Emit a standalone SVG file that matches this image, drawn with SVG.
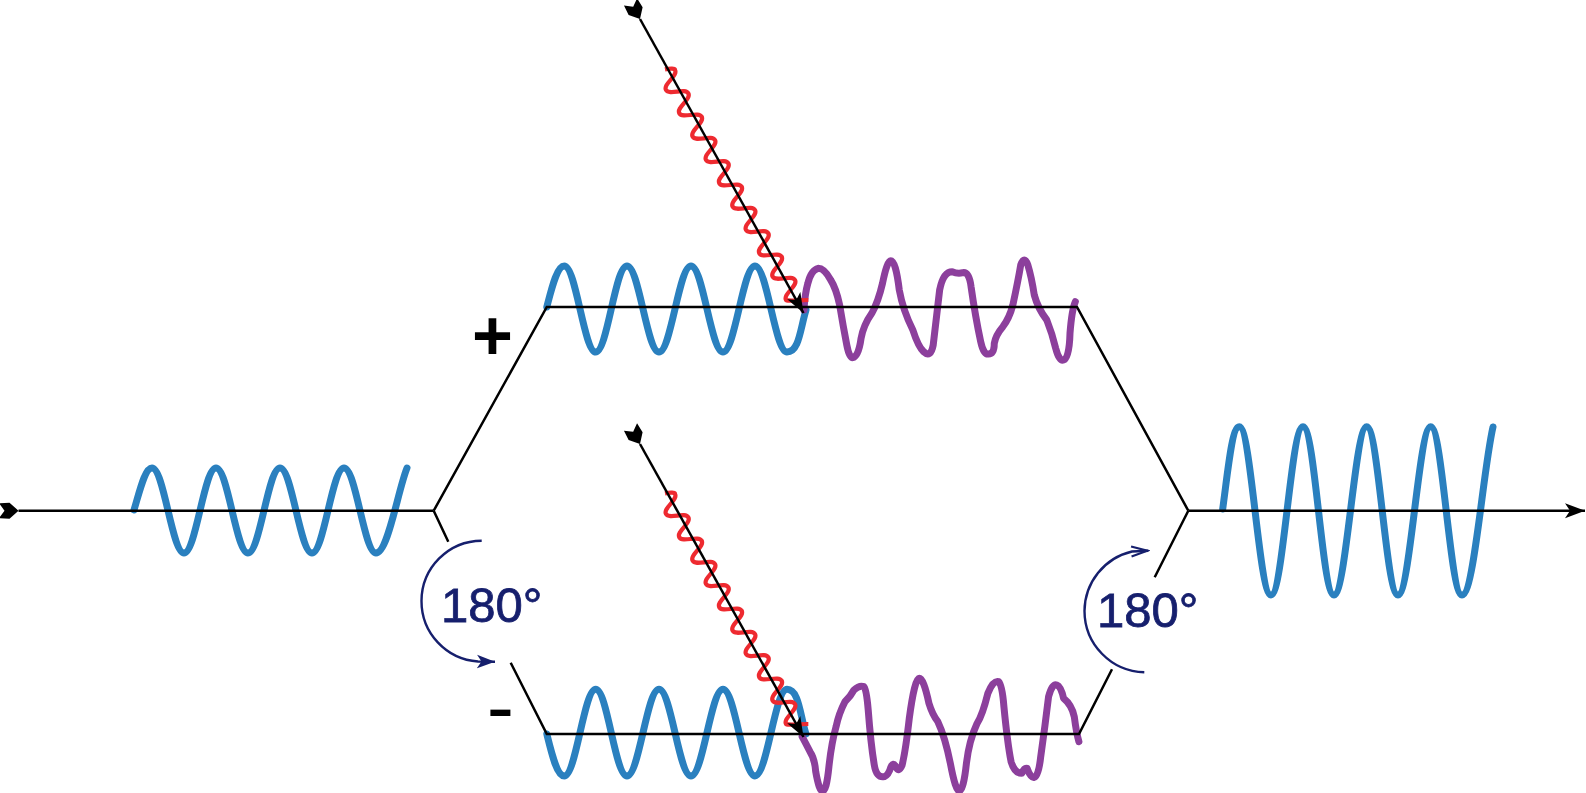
<svg xmlns="http://www.w3.org/2000/svg" xmlns:xlink="http://www.w3.org/1999/xlink" width="1586" height="793" viewBox="0 0 1586 793">
<style>
.w{fill:none;stroke-linecap:round;stroke-linejoin:round}
.b{stroke:#2a80bf;stroke-width:7}
.p{stroke:#8c3f9c;stroke-width:7;vector-effect:non-scaling-stroke}
.r{fill:none;stroke:#ee2a30;stroke-width:4.2;vector-effect:non-scaling-stroke}
.k{fill:none;stroke:#000;stroke-width:2.5}
.n{fill:none;stroke:#161f6d;stroke-width:2.4}
.t{font-family:"Liberation Sans",Arial,sans-serif;font-size:49px;fill:#161f6d;stroke:#161f6d;stroke-width:.8}
.s{font-family:"Liberation Sans",Arial,sans-serif;font-weight:bold;fill:#000}
</style>
<defs>
<marker id="head" markerUnits="userSpaceOnUse" markerWidth="24" markerHeight="20" refX="21" refY="10" orient="auto"><path d="M21 10L1 2.500L6 10L1 17.500Z" fill="#000"/></marker>
<marker id="tail" markerUnits="userSpaceOnUse" markerWidth="24" markerHeight="20" refX="20" refY="10" orient="auto"><path d="M20 10L11 2L.5 2.500L6 10L.5 17.500L11 18Z" fill="#000"/></marker>
<marker id="nh" markerUnits="userSpaceOnUse" markerWidth="20" markerHeight="16" refX="18" refY="8" orient="auto"><path d="M18 8L0 1.300L4.500 8L0 14.700Z" fill="#161f6d"/></marker>
<marker id="nv" markerUnits="userSpaceOnUse" markerWidth="20" markerHeight="16" refX="18" refY="8" orient="auto"><path d="M1 3L17 8L1 13" fill="none" stroke="#161f6d" stroke-width="2.2"/></marker>
<path id="squiggle" class="r" d="M195 208C210 205 226 205 225 210c10 17 -37 43 -27 60c10 17 57 -7 67 10c10 17 -37 43 -27 60c10 17 57 -7 67 10c10 17 -37 43 -27 60c10 17 57 -7 67 10c10 17 -37 43 -27 60c10 17 57 -7 67 10c10 17 -37 43 -27 60c10 17 57 -7 67 10c10 17 -37 43 -27 60c10 17 57 -7 67 10c10 17 -37 43 -27 60c10 17 57 -7 67 10c10 17 -37 43 -27 60c10 17 57 -7 67 10c10 17 -37 43 -27 60c10 17 57 -7 67 10c10 17 -37 43 -27 60c10 5 40 0 67 0"/>
</defs>
<g id="waves">
<path id="wave-in" class="w b" d="M134 510C140 490 145 468 152 468C164 468 172 553 184 553S204 468 216 468S236 553 248 553S268 468 280 468S300 553 312 553S332 468 344 468S364 553 376 553S398 490 407 468"/>
<path id="wave-top-blue" class="w b" d="M546.800 307C552 287 557 266 564.300 266C576 266 584 352 595.700 352S615 266 627 266S647 352 659 352S679 266 691 266S711 352 723 352S743 266 755 266S775 352 787 352S800 330 806 310"/>
<path id="wave-bottom-blue" class="w b" d="M546.800 734C552 755 557 776 564.300 776C576 776 584 689.300 595.700 689.300S615 776 627 776S647 689.300 659 689.300S679 776 691 776S711 689.300 723 689.300S743 776 755 776S775 689.300 787 689.300S800 715 806 734"/>
<path id="wave-out" class="w b" d="M1222.700 509C1228 470 1232 426.700 1239.300 426.700C1251 426.700 1259 595 1271 595S1291 426.700 1303 426.700S1322 595 1334 595S1355 426.700 1366.700 426.700S1386 595 1398 595S1419 426.700 1430.700 426.700S1450 595 1462 595S1483 470 1493 427"/>
<g transform="translate(520 230) scale(.35714 .33333)"><path id="wave-top-purple" class="w p" d="M795 240Q798 190 806 160Q815 120 835 115Q852 115 870 150Q885 175 895 225Q905 290 915 345Q922 385 932 383Q948 380 955 325Q962 285 985 250Q1003 215 1015 160Q1028 92 1038 92Q1052 92 1062 180Q1072 240 1100 300Q1115 350 1130 365Q1150 385 1157 345Q1165 270 1175 180Q1185 125 1210 125Q1225 132 1240 128Q1258 125 1263 170Q1275 260 1290 335Q1298 375 1312 372Q1328 372 1328 340Q1332 315 1352 290Q1370 265 1380 225Q1395 150 1402 105Q1412 75 1422 105Q1432 140 1440 195Q1450 235 1475 270Q1490 310 1500 355Q1510 395 1522 390Q1538 385 1540 310Q1545 240 1555 215"/></g>
<g transform="translate(520 650) scale(.35714 .33333)"><path id="wave-bottom-purple" class="w p" d="M790 260Q800 280 812 305Q825 325 828 365Q838 425 847 423Q858 425 865 350Q872 280 885 230Q893 190 910 155Q925 140 935 120Q950 105 963 110Q970 115 975 180Q982 280 992 345Q998 385 1020 380Q1032 375 1038 352Q1045 335 1052 350Q1060 370 1070 345Q1080 300 1090 205Q1105 85 1118 85Q1130 85 1145 160Q1155 195 1170 215Q1190 260 1205 340Q1220 425 1230 423Q1242 420 1250 340Q1258 270 1280 220Q1295 195 1310 130Q1325 90 1340 95Q1350 105 1355 170Q1365 280 1375 335Q1385 370 1405 370Q1412 352 1420 355Q1430 385 1440 382Q1452 380 1458 320Q1470 230 1480 140Q1490 100 1503 105Q1515 110 1522 145Q1545 165 1552 200Q1558 250 1565 275"/></g>
<use id="wave-red-top" href="#squiggle" xlink:href="#squiggle" transform="translate(600 0) scale(.33333)"/>
<use id="wave-red-bottom" href="#squiggle" xlink:href="#squiggle" transform="translate(600 424) scale(.33333)"/>
</g>
<g id="connectors">
<path class="k" d="M18.500 510.700H433.700" marker-start="url(#tail)"/>
<path class="k" d="M433.700 510.700L546.800 307H1077L1188.300 510.700"/>
<path class="k" d="M433.700 510.700L448.300 541.700M510.700 662.700L546.800 734H1079L1112 669.300M1154.700 577.300L1188.300 510.700"/>
<path class="k" d="M1188.300 510.700H1585" marker-end="url(#head)"/>
<path class="k" d="M640 19L803.500 313" marker-start="url(#tail)" marker-end="url(#head)"/>
<path class="k" d="M640 444L803.500 737" marker-start="url(#tail)" marker-end="url(#head)"/>
<path class="n" d="M481.700 540.700A60.500 60.500 0 0 0 421.500 601A60.500 60.500 0 0 0 478 661.500L495 661.700" marker-end="url(#nh)"/>
<path class="n" d="M1144.300 672.300A61.500 61.500 0 0 1 1084.500 611A61.500 61.500 0 0 1 1132 551.500L1148.300 550.700" marker-end="url(#nv)"/>
</g>
<g id="labels">
<text class="t" x="441" y="621.700">180°</text>
<text class="t" x="1097" y="626.700">180°</text>
<text class="s" font-size="70" x="472" y="360">+</text>
<text font-family="'Liberation Sans',Arial,sans-serif" font-size="82" x="486.700" y="735">-</text>
</g>
</svg>
